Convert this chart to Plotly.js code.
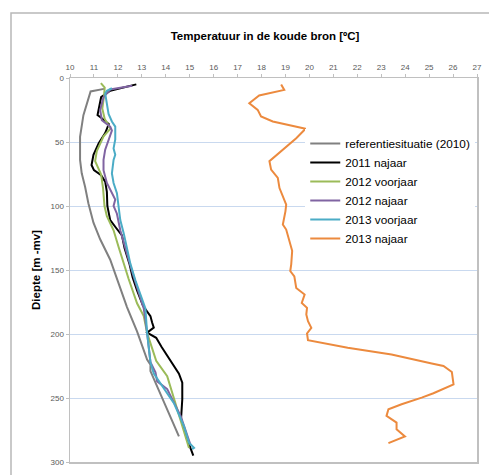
<!DOCTYPE html>
<html>
<head>
<meta charset="utf-8">
<script src="https://cdn.plot.ly/plotly-3.0.1.min.js"></script>
<style>html,body{margin:0;padding:0;background:#fff;}#chart{width:489px;height:475px;}</style>
</head>
<body>
<div id="chart"></div>
<script>
// Series names
var seriesNames = ["referentiesituatie (2010)", "2011 najaar", "2012 voorjaar", "2012 najaar", "2013 voorjaar", "2013 najaar"];

// referentiesituatie (2010)
var refT = [11.42, 10.86, 10.56, 10.49, 10.42, 10.42, 10.49, 10.63, 10.77, 10.98, 11.26, 11.68, 11.98, 12.38, 12.8, 13.22, 13.36, 13.36, 14.55];
var refD = [8.5, 10.5, 29, 39, 46, 64, 74.5, 85, 98, 113, 126, 142, 158, 179, 198, 220, 224, 229, 280];

// 2011 najaar
var n2011T = [12.77, 11.68, 11.3, 11.15, 11.3, 11.62, 11.47, 11.2, 10.98, 10.9, 11.0, 11.3, 11.47, 11.54, 11.56, 11.68, 11.92, 12.17, 12.28, 12.48, 12.62, 12.8, 13.05, 13.36, 13.43, 13.5, 13.22, 13.6, 13.82, 14.15, 14.55, 14.69, 14.69, 14.64, 14.87, 15.15];
var n2011D = [5, 10, 15, 29, 31, 36, 43, 51, 60, 68, 72, 76, 81, 89, 100, 111, 117, 123, 133, 145, 156, 166, 178, 186, 191, 195, 199, 203, 210, 220, 231, 238, 251, 266, 281, 295];

// 2012 voorjaar
var v2012T = [11.29, 11.45, 11.42, 11.35, 11.45, 11.69, 11.4, 11.12, 11.05, 11.3, 11.38, 11.44, 11.54, 11.82, 12.03, 12.24, 12.45, 12.8, 13.08, 13.22, 13.4, 13.6, 14.06, 14.3, 14.62, 14.83, 14.97];
var v2012D = [4, 7.5, 14, 24, 32, 39.5, 45.6, 57, 65, 75.5, 86, 100, 108, 119, 132, 145, 157, 176, 186, 199, 210, 221, 233, 248, 267, 282, 289];

// 2012 najaar
var n2012T = [12.6, 11.68, 11.4, 11.26, 11.33, 11.68, 11.75, 11.61, 11.47, 11.4, 11.4, 11.54, 11.75, 11.89, 11.82, 11.96, 12.1, 12.24, 12.45, 12.66, 13.08, 13.22, 13.36, 13.57, 13.64, 14.06, 14.62, 15.04];
var n2012D = [6, 9, 15, 25, 33, 38, 41, 48, 56, 64, 72, 82, 90, 95, 100, 106, 119, 129, 142, 155, 180, 199, 222, 230, 237, 243, 264, 287];

// 2013 voorjaar
var v2013T = [11.75, 11.54, 11.47, 11.54, 11.61, 11.75, 11.89, 11.89, 11.82, 11.89, 11.82, 11.75, 11.82, 11.96, 12.03, 12.1, 12.24, 12.38, 12.52, 12.73, 13.15, 13.22, 13.29, 13.36, 13.5, 13.92, 14.34, 14.76, 14.97, 15.18, 15.1];
var v2013D = [8, 10, 12, 20, 28, 34, 38, 48, 55, 60, 64, 74.5, 82, 90, 100, 111, 121, 132, 145, 158, 180, 199, 212, 222, 231, 243, 254, 272, 285, 289, 290];

// 2013 najaar
var n2013T = [18.82, 18.95, 17.9, 17.49, 17.84, 17.98, 18.47, 19.84, 19.45, 18.96, 18.54, 18.33, 18.4, 18.68, 18.75, 18.89, 19.03, 19.0, 18.89, 19.03, 19.17, 19.28, 19.24, 19.2, 19.37, 19.45, 19.8, 19.68, 19.9, 19.87, 19.94, 20.08, 19.9, 19.94, 21.6, 23.43, 25.11, 25.6, 25.95, 26.02, 25.18, 24.69, 23.85, 23.3, 23.22, 23.64, 23.64, 23.99, 23.3];
var n2013D = [5, 9.3, 13.7, 19.7, 24.9, 30, 34, 39.7, 47, 54.7, 61.2, 65, 71.6, 78, 86, 92.4, 98.9, 104, 114.5, 118.4, 127.4, 135, 145.6, 150.8, 155, 164, 169.2, 175.7, 179.6, 184.8, 190, 195.2, 199.6, 204.8, 210.7, 216, 223, 225, 229.7, 239.3, 246.3, 249.7, 254.9, 258.8, 264, 269.2, 274.4, 280, 285.3];

// Axis ticks
var xTicks = [10, 11, 12, 13, 14, 15, 16, 17, 18, 19, 20, 21, 22, 23, 24, 25, 26, 27];
var yTicks = [0, 50, 100, 150, 200, 250, 300];

var colors = ["#808080", "#000000", "#9bbb59", "#8064a2", "#4bacc6", "#ec8a3e"];
var xs = [refT, n2011T, v2012T, n2012T, v2013T, n2013T];
var ys = [refD, n2011D, v2012D, n2012D, v2013D, n2013D];

var traces = seriesNames.map(function(name, i) {
  return {
    type: "scatter", mode: "lines", name: name,
    x: xs[i], y: ys[i],
    line: {color: colors[i], width: 2}
  };
});

var font = "Liberation Sans, Arial, sans-serif";
var layout = {
  width: 489, height: 475,
  margin: {l: 70, r: 12, t: 78, b: 13},
  paper_bgcolor: "#ffffff", plot_bgcolor: "#ffffff",
  font: {family: font, color: "#000000"},
  title: {text: "<b>Temperatuur in de koude bron [ºC]</b>", font: {family: font, size: 11.5, color: "#000"}, x: 0.542, xanchor: "center", y: 1 - 36/475, yanchor: "middle"},
  showlegend: true,
  legend: {x: 0.578, xanchor: "left", y: 0.867, yanchor: "top", bgcolor: "#ffffff", borderwidth: 0,
           font: {family: font, size: 11.8, color: "#000"}, itemwidth: 30, tracegroupgap: 0},
  xaxis: {
    side: "top", range: [10, 27], tickvals: xTicks, ticktext: xTicks.map(String),
    showgrid: false, zeroline: false, showline: true, mirror: true, linecolor: "#c0c0c0", linewidth: 1.5,
    ticks: "outside", ticklen: 3, tickcolor: "#c0c0c0",
    tickfont: {family: font, size: 8, color: "#595959"}, fixedrange: true
  },
  yaxis: {
    range: [300, 0], tickvals: yTicks, ticktext: yTicks.map(String),
    showgrid: true, gridcolor: "#c9d9ef", gridwidth: 1, zeroline: false,
    showline: true, mirror: true, linecolor: "#c0c0c0", linewidth: 1.5,
    ticks: "outside", ticklen: 3, tickcolor: "#c0c0c0",
    tickfont: {family: font, size: 8, color: "#595959"},
    title: {text: "<b>Diepte [m -mv]</b>", font: {family: font, size: 11.5, color: "#000"}, standoff: 7},
    automargin: false, fixedrange: true
  },
  shapes: [{
    type: "rect", xref: "paper", yref: "paper",
    x0: (11 - 70) / 407, x1: (500 - 70) / 407,
    y0: (462 - 490) / 384, y1: (462 - 13) / 384,
    line: {color: "#b8b8b8", width: 1.5}, fillcolor: "rgba(0,0,0,0)", layer: "below"
  }]
};

Plotly.newPlot("chart", traces, layout, {displayModeBar: false, staticPlot: true});
</script>
</body>
</html>
